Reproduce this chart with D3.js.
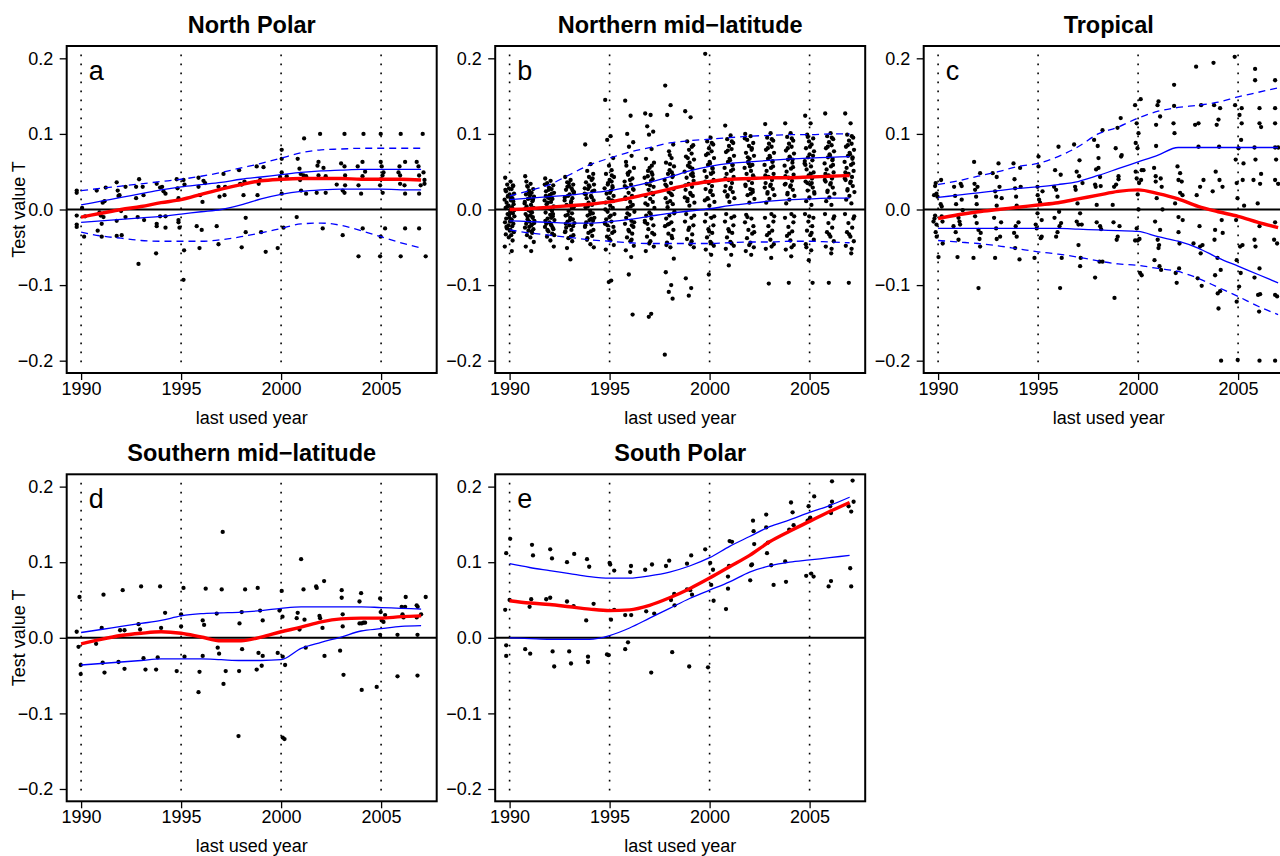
<!DOCTYPE html>
<html><head><meta charset="utf-8">
<script src="https://cdn.jsdelivr.net/npm/d3@7"></script>
<style>body{margin:0;background:#fff}svg{display:block;font-family:"Liberation Sans",Arial,Helvetica,sans-serif}</style>
</head><body>
<script>
// ---------- DATA ----------
const lineYears = [1990,1991,1992,1993,1994,1995,1996,1997,1998,1999,2000,2001,2002,2003,2004,2005,2006,2007];
const yTicks = [-0.2,-0.1,0.0,0.1,0.2];
const xTicks = [1990,1995,2000,2005];
const titles = ["North Polar","Northern mid\u2212latitude","Tropical","Southern mid\u2212latitude","South Polar"];
const letters = ["a","b","c","d","e"];

// panel a lines
const aRed  = [-0.010,-0.005,0.000,0.004,0.009,0.013,0.020,0.027,0.033,0.038,0.040,0.041,0.041,0.041,0.040,0.040,0.040,0.039];
const aUp   = [0.006,0.011,0.016,0.021,0.026,0.030,0.033,0.036,0.040,0.043,0.046,0.049,0.051,0.052,0.053,0.053,0.053,0.053];
const aLo   = [-0.017,-0.015,-0.013,-0.011,-0.009,-0.006,-0.003,0.000,0.006,0.014,0.020,0.024,0.026,0.027,0.027,0.027,0.026,0.026];
const aUpD  = [0.025,0.028,0.031,0.034,0.037,0.040,0.044,0.049,0.055,0.061,0.068,0.075,0.079,0.080,0.081,0.081,0.081,0.081];
const aLoD  = [-0.030,-0.035,-0.038,-0.041,-0.042,-0.042,-0.042,-0.040,-0.036,-0.031,-0.025,-0.019,-0.018,-0.021,-0.028,-0.036,-0.044,-0.051];
// panel b lines
const bRed  = [0.000,0.001,0.003,0.005,0.007,0.010,0.015,0.021,0.027,0.033,0.037,0.040,0.041,0.042,0.042,0.043,0.044,0.045];
const bUp   = [0.013,0.015,0.017,0.019,0.022,0.025,0.030,0.036,0.043,0.051,0.057,0.061,0.063,0.065,0.067,0.068,0.069,0.070];
const bLo   = [-0.015,-0.016,-0.017,-0.018,-0.018,-0.016,-0.013,-0.009,-0.005,-0.002,0.001,0.005,0.008,0.011,0.013,0.014,0.015,0.015];
const bUpD  = [0.018,0.025,0.033,0.046,0.059,0.068,0.076,0.082,0.088,0.091,0.093,0.095,0.097,0.098,0.099,0.099,0.100,0.100];
const bLoD  = [-0.027,-0.031,-0.034,-0.037,-0.040,-0.042,-0.044,-0.045,-0.045,-0.045,-0.045,-0.044,-0.043,-0.043,-0.042,-0.042,-0.043,-0.044];
// panel c lines
const cRed  = [-0.012,-0.007,-0.003,0.000,0.003,0.006,0.009,0.014,0.019,0.024,0.026,0.021,0.014,0.004,-0.003,-0.009,-0.017,-0.024];
const cUp   = [0.016,0.019,0.022,0.025,0.028,0.030,0.033,0.037,0.045,0.054,0.063,0.072,0.082,0.082,0.082,0.082,0.082,0.082];
const cLo   = [-0.025,-0.025,-0.025,-0.025,-0.025,-0.025,-0.025,-0.026,-0.027,-0.028,-0.029,-0.036,-0.042,-0.051,-0.064,-0.075,-0.086,-0.097];
const cUpD  = [0.033,0.038,0.044,0.050,0.057,0.061,0.070,0.083,0.100,0.109,0.121,0.130,0.135,0.138,0.142,0.149,0.155,0.161];
const cLoD  = [-0.041,-0.043,-0.045,-0.048,-0.052,-0.056,-0.059,-0.063,-0.068,-0.072,-0.074,-0.078,-0.082,-0.091,-0.103,-0.115,-0.128,-0.139];
// panel d lines
const dRed  = [-0.008,-0.002,0.003,0.006,0.008,0.006,0.001,-0.004,-0.004,0.001,0.008,0.014,0.021,0.025,0.026,0.026,0.028,0.029];
const dUp   = [0.007,0.011,0.015,0.019,0.023,0.029,0.032,0.033,0.034,0.036,0.039,0.041,0.041,0.041,0.041,0.040,0.039,0.038];
const dLo   = [-0.036,-0.034,-0.032,-0.030,-0.028,-0.028,-0.028,-0.029,-0.030,-0.030,-0.029,-0.014,-0.006,0.001,0.009,0.012,0.015,0.016];
// panel e lines
const eRed  = [0.049,0.046,0.044,0.041,0.038,0.036,0.037,0.043,0.053,0.065,0.079,0.094,0.109,0.127,0.141,0.154,0.167,0.179];
const eUp   = [0.098,0.093,0.089,0.085,0.081,0.079,0.079,0.082,0.087,0.095,0.106,0.121,0.134,0.147,0.156,0.166,0.175,0.186];
const eLo   = [0.000,-0.001,-0.002,-0.002,-0.002,0.003,0.013,0.026,0.039,0.052,0.063,0.074,0.087,0.095,0.100,0.103,0.106,0.109];

// panel a points [year, T]
const aPts = [[1989.78,0.025],[1989.78,0.022],[1989.78,-0.008],[1989.78,-0.020],[1989.78,-0.023],[1990.15,-0.036],[1990.2,-0.009],[1990.05,0.002],
[1990.78,0.025],[1990.92,-0.004],[1990.98,-0.008],[1991.03,-0.019],[1991.03,-0.036],[1990.83,-0.028],[1991.08,0.009],[1991.17,0.011],[1991.23,0.029],[1991.12,-0.010],
[1991.78,0.036],[1991.83,0.025],[1991.87,0.018],[1991.92,0.019],[1991.78,-0.015],[1991.78,-0.035],[1992.0,-0.002],[1992.03,-0.034],[1992.22,-0.010],[1992.22,0.030],
[1992.75,0.030],[1992.9,0.040],[1992.75,0.015],[1992.83,-0.010],[1992.87,-0.072],[1993.08,0.030],[1993.12,0.019],[1993.15,-0.014],
[1993.78,0.034],[1993.95,0.029],[1994.05,0.030],[1994.12,0.024],[1994.22,0.021],[1993.78,-0.019],[1993.78,-0.022],[1993.95,-0.009],[1994.22,-0.009],[1994.22,-0.024],[1993.75,-0.058],
[1994.78,0.040],[1994.82,0.028],[1994.87,0.015],[1994.87,-0.014],[1994.87,-0.017],[1994.92,-0.024],[1995.12,0.039],[1995.17,0.033],[1995.15,-0.054],[1995.12,-0.093],
[1995.87,0.042],[1995.87,0.030],[1995.95,0.019],[1996.07,0.010],[1996.12,0.038],[1996.2,0.035],[1995.78,-0.022],[1996.03,-0.027],[1995.92,-0.051],
[1996.78,-0.022],[1996.87,-0.046],[1996.87,0.030],[1996.92,0.017],[1997.12,0.047],[1997.2,0.030],[1997.17,0.019],
[1997.9,0.052],[1997.95,0.034],[1998.03,0.033],[1998.12,0.019],[1998.17,0.037],[1998.03,-0.050],[1998.23,-0.011],[1998.23,-0.030],
[1998.78,0.057],[1998.88,0.034],[1998.95,0.039],[1999.12,0.056],[1998.82,0.019],[1999.0,-0.030],[1999.23,-0.056],
[1999.83,-0.051],[1999.95,0.043],[2000.03,0.067],[2000.03,0.079],[2000.03,0.049],[2000.03,0.021],[2000.28,0.044],[2000.12,-0.024],
[2000.78,-0.010],[2000.83,0.067],[2000.92,0.054],[2000.98,0.047],[2000.95,0.039],[2001.12,0.045],[2001.25,0.044],[2001.0,0.025],[2001.25,0.021],[2001.15,0.094],
[2001.82,0.058],[2001.87,0.063],[2001.87,0.045],[2001.95,0.100],[2002.12,0.055],[2002.23,0.044],[2001.78,0.022],[2002.23,0.022],[2002.08,-0.025],
[2002.78,0.033],[2003.0,0.061],[2003.17,0.057],[2003.2,0.045],[2003.2,0.032],[2003.08,0.025],[2003.17,0.022],[2003.17,0.100],[2003.08,-0.034],
[2003.83,0.057],[2003.87,0.032],[2004.0,0.021],[2004.07,0.063],[2004.07,0.044],[2004.12,0.100],[2004.2,0.050],[2004.08,-0.025],[2003.87,-0.062],
[2004.98,0.063],[2005.03,0.057],[2005.07,0.045],[2004.95,0.032],[2005.12,0.049],[2005.08,0.022],[2004.98,0.100],[2004.95,-0.062],[2005.2,-0.025],[2004.98,-0.036],[2005.0,0.040],
[2005.92,0.057],[2005.95,0.045],[2005.98,0.100],[2005.95,0.034],[2006.2,0.063],[2006.17,0.032],[2006.2,0.021],[2005.87,0.049],[2005.98,-0.062],[2006.2,-0.025],
[2006.78,0.063],[2006.87,0.057],[2006.9,0.045],[2006.98,0.032],[2007.12,0.049],[2007.17,0.039],[2007.17,0.034],[2006.9,0.021],[2007.08,0.100],[2006.9,-0.025],[2007.23,-0.062]];

// panel b: values per year (dense cloud) plus per-point x jitter (years)
const bYears = lineYears;
const bVals = [
[0.042,0.037,0.033,0.031,0.028,0.027,0.024,0.021,0.020,0.018,0.015,0.013,0.012,0.009,0.007,0.005,0.003,0.002,-0.003,-0.005,-0.006,-0.009,-0.011,-0.012,-0.015,-0.017,-0.019,-0.021,-0.022,-0.025,-0.027,-0.030,-0.033,-0.034,-0.037,-0.041,-0.049,-0.055,0.017,-0.016],
[0.044,0.034,0.031,0.027,0.025,0.022,0.020,0.017,0.015,0.014,0.011,0.008,0.006,0.004,0.002,-0.001,-0.004,-0.006,-0.008,-0.010,-0.013,-0.015,-0.016,-0.019,-0.021,-0.024,-0.026,-0.028,-0.031,-0.034,-0.037,-0.043,-0.049,-0.055,0.023,-0.011,0.010,-0.020],
[0.041,0.038,0.035,0.032,0.029,0.027,0.024,0.022,0.019,0.016,0.014,0.012,0.010,0.007,0.004,0.002,-0.002,-0.004,-0.007,-0.009,-0.012,-0.014,-0.017,-0.019,-0.021,-0.023,-0.026,-0.029,-0.032,-0.036,-0.041,-0.049,0.018,-0.011,0.026,-0.024],
[0.043,0.039,0.036,0.033,0.031,0.028,0.026,0.023,0.020,0.018,0.015,0.012,0.009,0.006,0.003,-0.002,-0.005,-0.008,-0.011,-0.013,-0.016,-0.018,-0.021,-0.024,-0.027,-0.030,-0.034,-0.038,-0.042,-0.051,-0.066,0.022,-0.019,0.011],
[0.086,0.060,0.051,0.047,0.043,0.039,0.036,0.033,0.030,0.027,0.024,0.021,0.018,0.015,0.012,0.009,0.006,0.003,-0.002,-0.005,-0.008,-0.011,-0.014,-0.017,-0.020,-0.023,-0.027,-0.031,-0.035,-0.040,-0.046,-0.050,0.020,-0.012,0.032],
[0.145,0.097,0.092,0.068,0.058,0.052,0.047,0.043,0.039,0.035,0.031,0.028,0.025,0.021,0.018,0.015,0.012,0.009,0.005,0.002,-0.003,-0.006,-0.010,-0.013,-0.016,-0.019,-0.023,-0.027,-0.031,-0.036,-0.041,-0.047,-0.053,-0.094,-0.096,0.029,-0.018],
[0.144,0.124,0.100,0.089,0.083,0.071,0.063,0.055,0.050,0.046,0.041,0.037,0.033,0.029,0.026,0.022,0.018,0.014,0.010,0.006,0.002,-0.003,-0.007,-0.011,-0.015,-0.019,-0.023,-0.027,-0.032,-0.037,-0.042,-0.048,-0.054,-0.063,-0.086,-0.139,0.031,-0.021],
[0.127,0.125,0.110,0.103,0.099,0.080,0.067,0.062,0.055,0.051,0.046,0.042,0.038,0.034,0.030,0.026,0.022,0.018,0.014,0.010,0.006,0.002,-0.004,-0.008,-0.012,-0.017,-0.021,-0.026,-0.031,-0.036,-0.042,-0.049,-0.055,-0.138,-0.142,0.040,-0.015],
[0.164,0.138,0.125,0.086,0.077,0.068,0.062,0.057,0.052,0.047,0.043,0.039,0.035,0.031,0.027,0.023,0.019,0.015,0.011,0.007,0.003,-0.003,-0.008,-0.012,-0.017,-0.022,-0.027,-0.032,-0.038,-0.044,-0.050,-0.065,-0.083,-0.100,-0.109,-0.118,-0.192,0.049,-0.020],
[0.130,0.122,0.090,0.085,0.079,0.074,0.070,0.066,0.062,0.058,0.054,0.050,0.046,0.042,0.038,0.034,0.030,0.026,0.022,0.018,0.014,0.009,0.005,-0.006,-0.011,-0.016,-0.021,-0.027,-0.033,-0.039,-0.046,-0.050,-0.091,-0.104,-0.114,0.048,0.016],
[0.206,0.095,0.090,0.086,0.081,0.077,0.072,0.068,0.063,0.059,0.055,0.051,0.047,0.043,0.039,0.035,0.031,0.027,0.023,0.019,0.015,0.010,0.005,-0.006,-0.011,-0.016,-0.021,-0.026,-0.031,-0.037,-0.043,-0.048,-0.053,-0.060,-0.086,0.054,0.012],
[0.111,0.098,0.093,0.088,0.084,0.080,0.076,0.071,0.067,0.063,0.059,0.055,0.051,0.047,0.043,0.039,0.035,0.031,0.027,0.023,0.019,0.015,0.010,-0.006,-0.011,-0.016,-0.021,-0.026,-0.031,-0.037,-0.043,-0.048,-0.052,-0.060,-0.074,0.059,0.024],
[0.100,0.097,0.092,0.088,0.084,0.079,0.075,0.071,0.067,0.063,0.059,0.055,0.051,0.047,0.043,0.039,0.035,0.031,0.027,0.023,0.019,0.014,0.009,-0.007,-0.012,-0.017,-0.022,-0.027,-0.032,-0.038,-0.044,-0.050,-0.055,-0.060,0.061,0.026],
[0.113,0.101,0.095,0.091,0.087,0.083,0.079,0.075,0.071,0.067,0.063,0.059,0.055,0.051,0.047,0.043,0.039,0.035,0.031,0.027,0.023,0.019,0.014,0.009,-0.006,-0.011,-0.016,-0.022,-0.028,-0.034,-0.040,-0.046,-0.052,-0.064,-0.098,0.064,0.029],
[0.114,0.101,0.096,0.091,0.087,0.083,0.078,0.074,0.070,0.066,0.062,0.058,0.054,0.050,0.046,0.042,0.038,0.034,0.030,0.026,0.022,0.018,0.013,0.008,-0.006,-0.011,-0.017,-0.023,-0.029,-0.035,-0.041,-0.047,-0.053,-0.062,-0.097,0.066,0.033],
[0.124,0.114,0.099,0.094,0.090,0.086,0.081,0.077,0.073,0.069,0.065,0.061,0.057,0.053,0.049,0.045,0.041,0.037,0.033,0.029,0.025,0.021,0.016,0.011,0.006,-0.006,-0.011,-0.016,-0.022,-0.028,-0.034,-0.040,-0.046,-0.054,-0.067,-0.097,0.064,0.035],
[0.127,0.101,0.097,0.093,0.089,0.085,0.081,0.077,0.073,0.069,0.065,0.061,0.057,0.053,0.049,0.045,0.041,0.037,0.033,0.029,0.025,0.021,0.016,0.011,0.006,-0.006,-0.012,-0.018,-0.024,-0.030,-0.036,-0.042,-0.049,-0.058,-0.097,0.067,0.039],
[0.127,0.114,0.099,0.095,0.091,0.087,0.083,0.079,0.075,0.071,0.067,0.063,0.059,0.055,0.051,0.047,0.043,0.039,0.035,0.031,0.027,0.023,0.018,0.013,0.008,-0.006,-0.012,-0.018,-0.024,-0.030,-0.036,-0.042,-0.048,-0.058,-0.097,0.069,0.041]];
const bValsExtra = [
[0.032,0.026,0.016,0.004,-0.001,-0.007,-0.013,-0.023,-0.028,0.011],
[0.030,0.019,0.013,0.001,-0.003,-0.009,-0.018,-0.023,-0.029,0.037],
[0.033,0.021,0.009,0.001,-0.006,-0.015,-0.020,-0.027,-0.034,0.015],
[0.035,0.025,0.016,0.002,-0.007,-0.014,-0.022,-0.029,-0.036,0.030],
[0.041,0.028,0.016,0.004,-0.006,-0.015,-0.021,-0.029,-0.038,0.025],
[0.045,0.033,0.022,0.011,0.000,-0.008,-0.021,-0.029,-0.039,0.037],
[0.048,0.039,0.027,0.016,0.004,-0.005,-0.017,-0.029,-0.040,0.058],
[0.058,0.044,0.032,0.020,0.008,-0.006,-0.019,-0.033,-0.045,0.049],
[0.060,0.045,0.033,0.021,0.009,-0.005,-0.019,-0.035,-0.047,0.072],
[0.083,0.068,0.056,0.044,0.032,0.020,0.011,-0.008,-0.024,-0.042],
[0.088,0.074,0.061,0.049,0.037,0.025,0.014,-0.009,-0.029,-0.045],
[0.090,0.078,0.065,0.053,0.041,0.029,0.017,-0.009,-0.029,-0.045],
[0.094,0.081,0.069,0.057,0.045,0.033,0.021,-0.010,-0.030,-0.047],
[0.093,0.081,0.069,0.057,0.045,0.033,0.021,-0.009,-0.031,-0.049],
[0.094,0.081,0.068,0.056,0.044,0.032,0.020,-0.009,-0.032,-0.050],
[0.096,0.083,0.071,0.059,0.047,0.035,0.023,-0.009,-0.031,-0.050],
[0.095,0.083,0.071,0.059,0.047,0.035,0.023,-0.009,-0.033,-0.052],
[0.097,0.085,0.073,0.061,0.049,0.037,0.025,-0.009,-0.033,-0.052]];
const bJitter = [-0.22,0.05,-0.12,0.18,-0.03,0.10,-0.18,0.22,0.00,-0.08,0.14,-0.25,0.07,-0.15,0.20,-0.05,0.12,-0.20,0.03,0.16,-0.10,0.24,-0.01,-0.17,0.09,-0.23,0.19,-0.06,0.13,-0.13,0.04,0.21,-0.19,0.08,-0.04,0.15,-0.24,0.11,-0.09,0.02,0.17,-0.21,0.06,-0.11,0.23,-0.02,0.10,-0.16,0.01,0.18];

const cPts = [[1989.8,0.019],[1989.85,0.031],[1989.88,0.035],[1989.92,0.021],[1989.97,0.017],[1989.77,-0.016],[1989.82,-0.012],[1989.85,-0.008],[1989.88,-0.030],[1989.92,-0.020],[1989.93,-0.036],[1990.02,-0.063],[1990.15,0.039],[1990.13,0.007],[1990.18,0.004],[1990.18,-0.009],[1990.22,-0.016],[1990.23,-0.045],
[1990.8,0.030],[1990.85,0.018],[1990.9,0.007],[1990.77,-0.022],[1990.88,-0.030],[1990.97,-0.063],[1991.02,-0.011],[1991.07,-0.016],[1991.1,-0.020],[1991.13,0.034],[1991.18,0.031],[1991.18,0.013],[1991.23,-0.001],[1991.02,-0.040],
[1991.8,0.063],[1991.82,0.034],[1991.85,0.026],[1991.9,0.017],[1991.93,0.007],[1991.77,-0.064],[1991.85,-0.009],[1991.93,-0.018],[1992.02,-0.027],[1992.02,-0.104],[1992.07,-0.039],[1992.1,-0.049],[1992.13,-0.031],[1992.1,0.048],[1991.97,0.030],
[1992.73,0.048],[1992.85,0.024],[1992.9,0.017],[1992.93,0.005],[1992.8,-0.011],[1992.85,-0.064],[1992.9,-0.025],[1992.93,-0.039],[1993.02,0.061],[1993.07,0.030],[1993.1,-0.036],[1993.15,-0.017],[1993.18,0.015],[1992.93,0.043],
[1993.77,0.061],[1993.82,0.040],[1993.85,0.028],[1993.9,0.017],[1993.93,0.005],[1993.8,-0.031],[1993.85,-0.051],[1993.88,-0.022],[1993.93,-0.036],[1994.02,-0.017],[1994.07,-0.066],[1994.1,0.055],[1994.13,0.030],
[1994.82,-0.064],[1994.88,-0.020],[1994.93,-0.025],[1994.97,-0.005],[1994.97,0.030],[1994.98,0.019],[1995.02,0.070],[1995.02,0.057],[1995.05,0.013],[1995.1,0.009],[1995.13,-0.038],[1995.18,-0.036],[1995.18,-0.014],[1995.22,0.024],
[1995.8,0.030],[1995.85,0.052],[1995.82,-0.011],[1995.9,-0.036],[1995.9,0.026],[1995.97,0.017],[1995.97,-0.030],[1996.02,0.083],[1996.05,-0.003],[1996.1,-0.104],[1996.13,0.046],[1996.18,-0.064],[1996.15,-0.018],[1996.07,-0.022],
[1996.8,0.086],[1996.85,0.030],[1996.88,0.026],[1996.93,0.050],[1996.93,-0.016],[1996.97,0.008],[1997.02,-0.020],[1997.02,-0.047],[1997.05,0.044],[1997.07,0.065],[1997.1,-0.005],[1997.1,-0.075],[1997.13,-0.064],[1997.18,-0.020],[1997.22,0.035],
[1997.8,0.092],[1997.85,0.033],[1997.88,0.030],[1997.9,0.053],[1997.93,0.006],[1997.93,-0.017],[1997.98,0.084],[1998.02,0.068],[1998.07,-0.069],[1998.1,-0.022],[1998.1,0.043],[1998.15,-0.026],[1998.22,0.105],[1998.22,-0.069],[1997.85,-0.090],[1998.02,0.055],[1998.13,0.031],
[1998.73,0.006],[1998.77,-0.017],[1998.8,0.030],[1998.82,-0.117],[1998.88,0.081],[1998.93,-0.040],[1998.97,0.108],[1998.98,-0.036],[1999.02,0.044],[1999.07,-0.022],[1999.13,0.121],[1999.15,0.070],[1999.18,0.072],[1999.02,0.040],[1998.9,0.033],
[1999.85,0.138],[1999.88,0.088],[1999.88,0.050],[1999.93,0.114],[1999.93,0.041],[1999.97,0.081],[1999.98,0.020],[1999.98,-0.041],[2000.02,0.101],[2000.02,0.000],[2000.05,0.035],[2000.07,-0.039],[2000.1,-0.084],[2000.13,0.146],[2000.18,-0.087],[2000.15,0.039],[2000.18,0.052],[1999.85,-0.041],[1999.93,-0.025],[2000.27,0.052],
[2000.8,0.055],[2000.82,-0.067],[2000.85,-0.016],[2000.88,0.037],[2000.88,0.044],[2000.9,0.112],[2000.9,0.084],[2000.93,0.015],[2000.97,0.138],[2000.98,-0.040],[2001.02,0.143],[2001.02,-0.051],[2001.05,-0.047],[2001.07,-0.075],[2001.1,-0.027],[2001.1,0.123],[2001.13,0.041],[2001.15,-0.080],[2001.18,0.030],[2001.22,0.000],
[2001.77,0.114],[2001.8,0.165],[2001.8,0.137],[2001.82,0.101],[2001.85,0.008],[2001.88,-0.084],[2001.93,-0.097],[2001.97,0.057],[2002.02,-0.010],[2002.02,-0.030],[2002.05,-0.078],[2002.07,-0.045],[2002.1,0.048],[2002.1,0.022],[2002.18,0.037],[2002.22,0.019],[2002.23,-0.014],[2002.02,0.039],
[2002.77,-0.045],[2002.85,0.112],[2002.9,0.189],[2002.93,0.019],[2002.98,-0.091],[2003.02,0.083],[2003.02,0.114],[2003.07,-0.022],[2003.1,0.030],[2003.13,-0.058],[2003.15,0.138],[2003.18,-0.101],[2003.22,-0.047],[2003.27,0.039],[2003.1,-0.049],
[2003.73,0.024],[2003.77,0.194],[2003.8,0.138],[2003.82,-0.040],[2003.85,-0.027],[2003.85,-0.087],[2003.88,0.050],[2003.93,0.112],[2003.97,-0.064],[2003.98,-0.111],[2004.02,0.119],[2004.02,-0.131],[2004.05,0.083],[2004.07,0.039],[2004.1,0.134],[2004.13,-0.080],[2004.18,-0.014],[2004.22,0.030],[2004.1,-0.108],[2004.23,-0.031],[2004.15,-0.200],
[2004.83,0.202],[2004.85,0.138],[2004.88,0.066],[2004.9,-0.014],[2004.93,-0.067],[2004.93,-0.122],[2004.97,0.015],[2004.98,-0.199],[2005.02,0.081],[2005.05,-0.102],[2005.07,0.125],[2005.1,-0.049],[2005.13,-0.084],[2005.15,0.092],[2005.18,0.134],[2005.18,0.114],[2005.22,-0.047],[2005.23,0.039],[2005.27,0.061],[2005.3,0.005],[2004.93,0.035],
[2005.85,0.186],[2005.85,0.171],[2006.07,0.134],[2006.07,0.114],[2006.15,0.109],[2005.82,0.082],[2005.87,0.066],[2005.77,0.039],[2006.15,0.047],[2006.1,0.034],[2005.98,0.008],[2006.07,-0.022],[2005.82,-0.040],[2005.87,-0.049],[2006.07,-0.078],[2005.82,-0.090],[2006.0,-0.113],[2006.1,-0.112],[2006.05,-0.135],[2006.07,-0.200],
[2006.85,0.171],[2006.85,0.134],[2006.85,0.114],[2006.85,0.082],[2006.9,0.066],[2006.85,0.039],[2006.85,-0.017],[2006.8,-0.040],[2006.85,-0.113],[2006.85,-0.200],[2007.0,0.082],[2007.0,0.034],[2006.95,-0.045],[2006.95,-0.115]];

const dPts = [[1989.78,0.008],[1989.87,-0.012],[1989.92,0.054],[1989.98,-0.036],[1989.98,-0.048],[1990.75,-0.008],[1991.03,0.013],[1991.12,0.057],[1991.08,-0.033],[1991.17,-0.046],
[1991.87,-0.032],[1991.95,0.010],[1992.17,0.010],[1992.08,0.063],[1992.17,-0.041],[1992.87,0.018],[1992.95,0.011],[1993.0,0.068],[1993.12,-0.027],[1993.22,-0.042],
[1993.75,-0.042],[1993.83,-0.026],[1993.95,0.068],[1994.0,0.013],[1994.2,0.033],[1994.78,-0.044],[1995.0,0.015],[1995.0,0.031],[1995.12,0.066],[1995.17,-0.025],
[1995.92,-0.045],[1995.87,-0.072],[1996.08,-0.024],[1996.08,0.023],[1996.15,0.017],[1996.23,0.065],[1996.78,0.032],[1996.83,-0.013],[1996.9,-0.021],[1997.03,0.064],[1997.08,0.140],[1997.12,-0.061],[1997.23,-0.044],
[1997.87,-0.130],[1997.9,-0.044],[1997.92,0.019],[1998.03,0.034],[1998.05,-0.015],[1998.2,0.064],[1998.78,-0.042],[1998.83,0.066],[1998.87,-0.020],[1998.95,0.036],[1999.03,-0.037],[1999.08,-0.024],[1999.08,0.023],
[1999.83,-0.020],[1999.92,0.036],[2000.03,0.062],[2000.07,0.028],[2000.08,-0.025],[2000.08,-0.132],[2000.17,-0.134],[2000.2,-0.036],[2000.78,0.026],[2000.83,0.033],[2000.92,0.011],[2001.0,0.104],[2001.12,0.064],[2001.17,0.024],[2001.23,-0.013],
[2001.75,0.068],[2001.78,0.066],[2001.92,0.029],[2001.95,0.026],[2002.07,0.013],[2002.15,0.075],[2002.17,-0.024],[2002.95,-0.017],[2003.03,0.063],[2003.03,0.053],[2003.08,0.031],[2003.08,0.015],[2003.12,-0.049],
[2003.92,0.048],[2003.92,0.019],[2004.03,0.019],[2004.12,0.020],[2004.2,0.020],[2004.0,0.059],[2004.03,-0.069],[2004.78,-0.065],[2004.95,0.052],[2004.95,0.004],[2004.98,0.034],[2005.03,0.023],[2005.12,0.021],[2005.2,0.030],
[2005.82,0.004],[2005.82,-0.051],[2006.03,0.041],[2006.07,0.031],[2006.12,0.027],[2006.2,0.041],[2006.23,0.054],[2006.78,0.043],[2006.83,0.041],[2006.78,0.027],[2006.82,0.004],[2006.82,-0.050],[2007.0,0.031],[2007.23,0.054]];

const ePts = [[1989.78,0.037],[1989.83,0.112],[1989.83,-0.010],[1989.83,-0.024],[1990.0,0.050],[1990.03,0.131],[1990.78,-0.015],[1991.0,0.041],[1991.03,-0.021],[1991.08,0.051],[1991.12,0.123],[1991.17,0.109],
[1991.83,0.051],[1992.03,0.053],[1992.03,0.117],[1992.12,0.105],[1992.15,-0.018],[1992.23,-0.038],[1992.87,0.048],[1992.87,0.100],[1992.98,-0.018],[1993.07,-0.034],[1993.2,0.042],[1993.23,0.111],
[1993.83,0.023],[1993.87,0.104],[1993.92,-0.025],[1993.92,-0.032],[1993.98,0.094],[1994.2,0.045],[1994.87,-0.022],[1994.95,-0.023],[1995.0,0.099],[1995.03,0.097],[1995.07,0.024],[1995.23,0.089],[1995.23,0.037],
[1995.78,0.030],[1995.78,-0.015],[1995.92,-0.006],[1996.03,0.087],[1996.07,0.095],[1996.08,0.030],[1996.78,0.090],[1996.83,0.035],[1997.08,-0.046],[1997.12,0.097],[1997.23,0.032],
[1997.82,0.095],[1997.98,0.102],[1998.07,0.050],[1998.13,-0.019],[1998.23,0.058],[1998.25,0.043],[1998.87,0.098],[1998.87,0.064],[1998.98,-0.038],[1999.03,0.063],[1999.08,0.109],[1999.12,0.057],
[1999.78,0.117],[1999.92,-0.039],[2000.03,0.099],[2000.08,0.070],[2000.17,0.090],[2000.2,0.049],[2000.82,0.038],[2000.92,0.081],[2000.92,0.065],[2000.97,0.095],[2001.0,0.128],[2001.12,0.127],
[2002.03,0.076],[2002.08,0.096],[2002.12,0.097],[2002.17,0.155],[2002.2,0.141],[2002.23,0.124],[2002.83,0.163],[2002.83,0.146],[2002.87,0.112],[2002.92,0.126],[2003.08,0.096],[2003.2,0.070],
[2003.78,0.101],[2003.82,0.074],[2003.98,0.143],[2004.07,0.179],[2004.15,0.166],[2004.2,0.149],[2004.83,0.082],[2004.9,0.155],[2004.95,0.174],[2005.0,0.157],[2005.03,0.159],[2005.08,0.085],[2005.2,0.081],[2005.23,0.187],
[2005.95,0.068],[2006.03,0.174],[2006.07,0.165],[2006.07,0.075],[2006.12,0.180],[2006.12,0.207],[2006.95,0.174],[2007.03,0.092],[2007.08,0.167],[2007.08,0.068],[2007.15,0.208],[2007.2,0.180]];

// ---------- BUILD ----------
const bPts = [];
bYears.forEach((yr, i) => bVals[i].concat(bValsExtra[i]).forEach((v, j) => bPts.push([yr + bJitter[j % bJitter.length], v])));

const panels = [
  {pts: aPts, solid: [aUp, aLo], dashed: [aUpD, aLoD], red: aRed, col: 0, row: 0},
  {pts: bPts, solid: [bUp, bLo], dashed: [bUpD, bLoD], red: bRed, col: 1, row: 0},
  {pts: cPts, solid: [cUp, cLo], dashed: [cUpD, cLoD], red: cRed, col: 2, row: 0},
  {pts: dPts, solid: [dUp, dLo], dashed: [], red: dRed, col: 0, row: 1},
  {pts: ePts, solid: [eUp, eLo], dashed: [], red: eRed, col: 1, row: 1}
];

const W = 1280, H = 856;
const svg = d3.select("body").append("svg").attr("width", W).attr("height", H);
const FS = 18;

panels.forEach((p, k) => {
  const ox = 428.5 * p.col, oy = 428.3 * p.row;
  const L = 66.7 + ox, R = 436.7 + ox, T = 46 + oy, B = 373 + oy;
  const x = d3.scaleLinear().domain([1989.28, 2007.78]).range([L, R]);
  const y = d3.scaleLinear().domain([-0.2163, 0.2163]).range([B, T]);
  const g = svg.append("g");

  // dotted verticals
  g.selectAll("line.vd").data(xTicks).join("line")
    .attr("x1", d => x(d)).attr("x2", d => x(d))
    .attr("y1", y(0.205)).attr("y2", y(-0.208))
    .attr("stroke", "#000").attr("stroke-width", 1.6).attr("stroke-dasharray", "1.6,7.4");

  // points
  g.selectAll("circle").data(p.pts).join("circle")
    .attr("cx", d => x(d[0])).attr("cy", d => y(d[1])).attr("r", 2.15).attr("fill", "#000");

  // zero line
  g.append("line").attr("x1", L).attr("x2", R).attr("y1", y(0)).attr("y2", y(0))
    .attr("stroke", "#000").attr("stroke-width", 2);

  const line = d3.line().x((d, i) => x(lineYears[i])).y(d => y(d)).curve(d3.curveMonotoneX);
  p.dashed.forEach(s => g.append("path").attr("d", line(s)).attr("fill", "none")
    .attr("stroke", "#0000ff").attr("stroke-width", 1.3).attr("stroke-dasharray", "7,5"));
  p.solid.forEach(s => g.append("path").attr("d", line(s)).attr("fill", "none")
    .attr("stroke", "#0000ff").attr("stroke-width", 1.3));
  g.append("path").attr("d", line(p.red)).attr("fill", "none")
    .attr("stroke", "#ff0000").attr("stroke-width", 3.4);

  // box
  g.append("rect").attr("x", L).attr("y", T).attr("width", R - L).attr("height", B - T)
    .attr("fill", "none").attr("stroke", "#000").attr("stroke-width", 2);

  // axes
  const ay = g.append("g").attr("transform", `translate(${L},0)`)
    .call(d3.axisLeft(y).tickValues(yTicks).tickSize(7).tickPadding(6.5)
      .tickFormat(d => d3.format(".1f")(d).replace("-", "\u2212")));
  ay.select(".domain").remove();
  ay.selectAll("line").attr("stroke", "#000").attr("stroke-width", 1.3);
  ay.selectAll("text").attr("font-size", FS).attr("font-family", null).attr("fill", "#000");

  const ax = g.append("g").attr("transform", `translate(0,${B})`)
    .call(d3.axisBottom(x).tickValues(xTicks).tickSize(7).tickFormat(d3.format("d")));
  ax.select(".domain").remove();
  ax.selectAll("line").attr("stroke", "#000").attr("stroke-width", 1.3);
  ax.selectAll("text").attr("font-size", FS).attr("font-family", null).attr("fill", "#000")
    .attr("y", 21.5).attr("dy", 0);

  // labels
  g.append("text").attr("x", (L + R) / 2).attr("y", 424 + oy).attr("text-anchor", "middle")
    .attr("font-size", FS).text("last used year");
  g.append("text").attr("x", (L + R) / 2).attr("y", 33 + oy).attr("text-anchor", "middle")
    .attr("font-size", 23.5).attr("font-weight", "bold").text(titles[k]);
  g.append("text").attr("x", L + 22).attr("y", 80 + oy)
    .attr("font-size", 27).text(letters[k]);
  if (p.col === 0) {
    g.append("text").attr("transform", `translate(${24.5},${y(0)}) rotate(-90)`)
      .attr("text-anchor", "middle").attr("font-size", FS).text("Test value T");
  }
});
</script>
</body></html>
